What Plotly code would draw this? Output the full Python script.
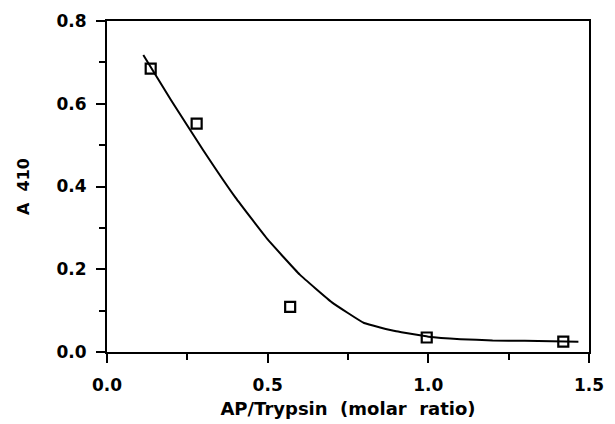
import plotly.graph_objects as go

# measured data points
ratio = [0.136, 0.279, 0.570, 0.995, 1.420]
a410 = [0.685, 0.552, 0.109, 0.035, 0.025]

# fitted curve as drawn
curve_x = [0.113, 0.2, 0.3, 0.4, 0.5, 0.6, 0.7, 0.8, 0.9, 1.0, 1.1, 1.2, 1.3, 1.467]
curve_y = [0.718, 0.608, 0.487, 0.373, 0.272, 0.187, 0.120, 0.070, 0.050, 0.037, 0.031, 0.028, 0.027, 0.025]

FONT = "DejaVu Sans"
tickfont = dict(family=FONT, size=17, color="black", weight="bold")

fig = go.Figure()
fig.add_trace(go.Scatter(x=curve_x, y=curve_y, mode="lines",
                         line=dict(color="black", width=2, shape="spline", smoothing=0.3),
                         showlegend=False, hoverinfo="skip"))
fig.add_trace(go.Scatter(x=ratio, y=a410, mode="markers",
                         marker=dict(symbol="square-open", size=10, color="black",
                                     line=dict(color="black", width=2.2)),
                         showlegend=False))

axis_common = dict(showgrid=False, zeroline=False, showline=True, linecolor="black",
                   linewidth=2, mirror=True, ticks="outside", tickwidth=2,
                   tickcolor="black", ticklen=9, tickfont=tickfont, automargin=False)

fig.update_xaxes(range=[0, 1.5], tickvals=[0, 0.5, 1.0, 1.5],
                 ticktext=["0.0", "0.5", "1.0", "1.5"], ticklabelstandoff=8,
                 minor=dict(tickvals=[0.25, 0.75, 1.25], ticks="outside", ticklen=6,
                            tickwidth=2, tickcolor="black"),
                 title=dict(text="<b>AP/Trypsin  (molar  ratio)</b>",
                            font=dict(family=FONT, size=18, color="black"), standoff=8),
                 **axis_common)
fig.update_yaxes(range=[0, 0.8], tickvals=[0, 0.2, 0.4, 0.6, 0.8],
                 ticktext=["0.0", "0.2", "0.4", "0.6", "0.8"], ticklabelstandoff=6,
                 minor=dict(tickvals=[0.1, 0.3, 0.5, 0.7], ticks="outside", ticklen=6,
                            tickwidth=2, tickcolor="black"),
                 title=dict(text="<b>A  410</b>",
                            font=dict(family=FONT, size=16, color="black"), standoff=23),
                 **axis_common)

fig.update_layout(width=607, height=416, plot_bgcolor="white", paper_bgcolor="white",
                  margin=dict(l=99, r=26, t=13, b=72, autoexpand=False),
                  font=dict(family=FONT, color="black"))

fig.write_html("out.html")
